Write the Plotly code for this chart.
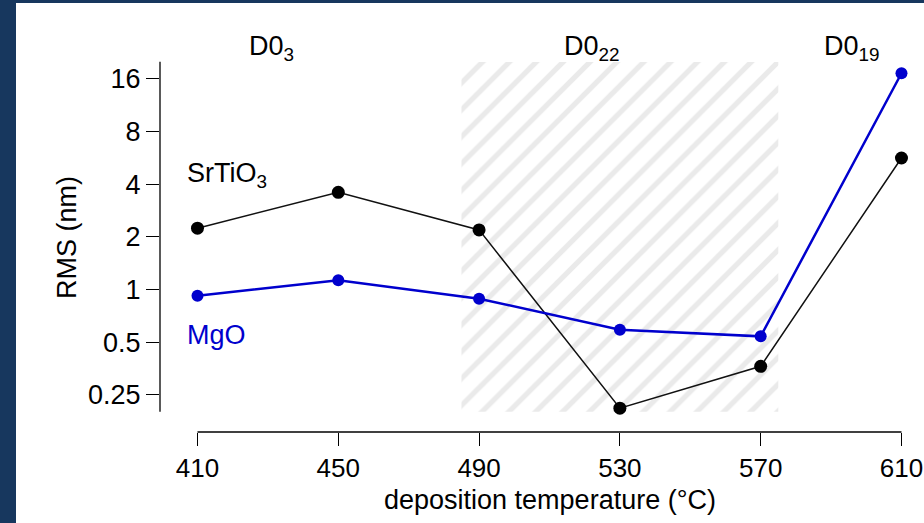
import math
import plotly.graph_objects as go

# ---- data ----
temps = [410, 450, 490, 530, 570, 610]
srtio3_rms = [2.24, 3.59, 2.19, 0.21, 0.364, 5.64]
mgo_rms = [0.92, 1.13, 0.886, 0.589, 0.54, 17.2]
x_tick_vals = [410, 450, 490, 530, 570, 610]
x_tick_text = ["410", "450", "490", "530", "570", "610"]
y_tick_vals = [0.25, 0.5, 1, 2, 4, 8, 16]
y_tick_text = ["0.25", "0.5", "1", "2", "4", "8", "16"]
d022_x = [485, 575]          # hatched D0_22 region (deg C)
y_span = [0.2, 20]           # extent of y axis line / hatch
phase_labels = ["D0<sub>3</sub>", "D0<sub>22</sub>", "D0<sub>19</sub>"]
phase_label_x = [431, 522, 596]

# ---- layout geometry ----
W, H = 924, 523
L, R, T, B = 160, 9, 62, 91
x_range = [399.35, 613.84]
y_range_log = [-0.8140, 1.2996]
NAVY = "#17375e"
FONT = "Liberation Sans, Arial, sans-serif"
FS = 27
TICK_FS = 26


def px_x(p):
    return (p - L) / (W - L - R)


def px_y(p):
    return (H - B - p) / (H - T - B)


def val_y(v):
    return (math.log10(v) - y_range_log[0]) / (y_range_log[1] - y_range_log[0])


fig = go.Figure()

# hatched region
fig.add_trace(go.Scatter(
    x=[d022_x[0], d022_x[1], d022_x[1], d022_x[0], d022_x[0]],
    y=[y_span[0], y_span[0], y_span[1], y_span[1], y_span[0]],
    fill="toself", mode="none", fillcolor="rgba(0,0,0,0)",
    fillpattern=dict(shape="/", fgcolor="#d6d6d6", bgcolor="rgba(255,255,255,0)",
                     size=19, solidity=0.28),
    hoverinfo="skip", showlegend=False,
))

fig.add_trace(go.Scatter(
    x=temps, y=srtio3_rms, mode="lines+markers",
    line=dict(color="#111111", width=1.5),
    marker=dict(color="black", size=13),
    showlegend=False, name="SrTiO3",
))
fig.add_trace(go.Scatter(
    x=temps, y=mgo_rms, mode="lines+markers",
    line=dict(color="#0000cd", width=2.5),
    marker=dict(color="#0000cd", size=12),
    showlegend=False, name="MgO",
))

shapes = [
    # navy frame
    dict(type="rect", xref="paper", yref="paper", x0=px_x(0), x1=px_x(16),
         y0=px_y(H), y1=px_y(0), fillcolor=NAVY, line=dict(width=0), layer="above"),
    dict(type="rect", xref="paper", yref="paper", x0=px_x(0), x1=px_x(W),
         y0=px_y(3), y1=px_y(0), fillcolor=NAVY, line=dict(width=0), layer="above"),
    # axis lines
    dict(type="line", xref="paper", yref="paper", x0=0, x1=0,
         y0=val_y(y_span[0]), y1=val_y(y_span[1]), line=dict(color="black", width=1.3)),
    dict(type="line", xref="x", yref="paper", x0=x_tick_vals[0], x1=x_tick_vals[-1],
         y0=0, y1=0, line=dict(color="black", width=1.3)),
]

annotations = []
for lbl, xv in zip(phase_labels, phase_label_x):
    annotations.append(dict(text=lbl, x=xv, xref="x", y=px_y(48), yref="paper",
                            showarrow=False, xanchor="center", yanchor="middle",
                            font=dict(family=FONT, size=FS, color="black")))
annotations += [
    dict(text="SrTiO<sub>3</sub>", x=px_x(185), y=px_y(175), xref="paper", yref="paper",
         showarrow=False, xanchor="left", yanchor="middle",
         font=dict(family=FONT, size=FS, color="black")),
    dict(text="MgO", x=px_x(185), y=px_y(335), xref="paper", yref="paper",
         showarrow=False, xanchor="left", yanchor="middle",
         font=dict(family=FONT, size=FS, color="#0000cd")),
    dict(text="deposition temperature (°C)", x=px_x(550), y=px_y(500),
         xref="paper", yref="paper", showarrow=False, xanchor="center", yanchor="middle",
         font=dict(family=FONT, size=FS, color="black")),
    dict(text="RMS (nm)", x=px_x(67), y=px_y(238), xref="paper", yref="paper",
         showarrow=False, xanchor="center", yanchor="middle", textangle=-90,
         font=dict(family=FONT, size=FS, color="black")),
]

fig.update_layout(
    width=W, height=H, autosize=False,
    margin=dict(l=L, r=R, t=T, b=B, pad=0, autoexpand=False),
    paper_bgcolor="white", plot_bgcolor="white",
    font=dict(family=FONT, size=FS, color="black"),
    shapes=shapes, annotations=annotations,
    xaxis=dict(range=x_range, tickvals=x_tick_vals, ticktext=x_tick_text,
               ticks="outside", ticklen=13, tickwidth=1.3, tickcolor="black",
               showline=False, showgrid=False, zeroline=False, automargin=False,
               tickfont=dict(family=FONT, size=TICK_FS, color="black")),
    yaxis=dict(type="log", range=y_range_log, tickvals=y_tick_vals, ticktext=y_tick_text,
               ticks="outside", ticklen=13, tickwidth=1.3, tickcolor="black",
               showline=False, showgrid=False, zeroline=False, automargin=False,
               tickfont=dict(family=FONT, size=FS, color="black")),
)

fig.write_html("out.html")
